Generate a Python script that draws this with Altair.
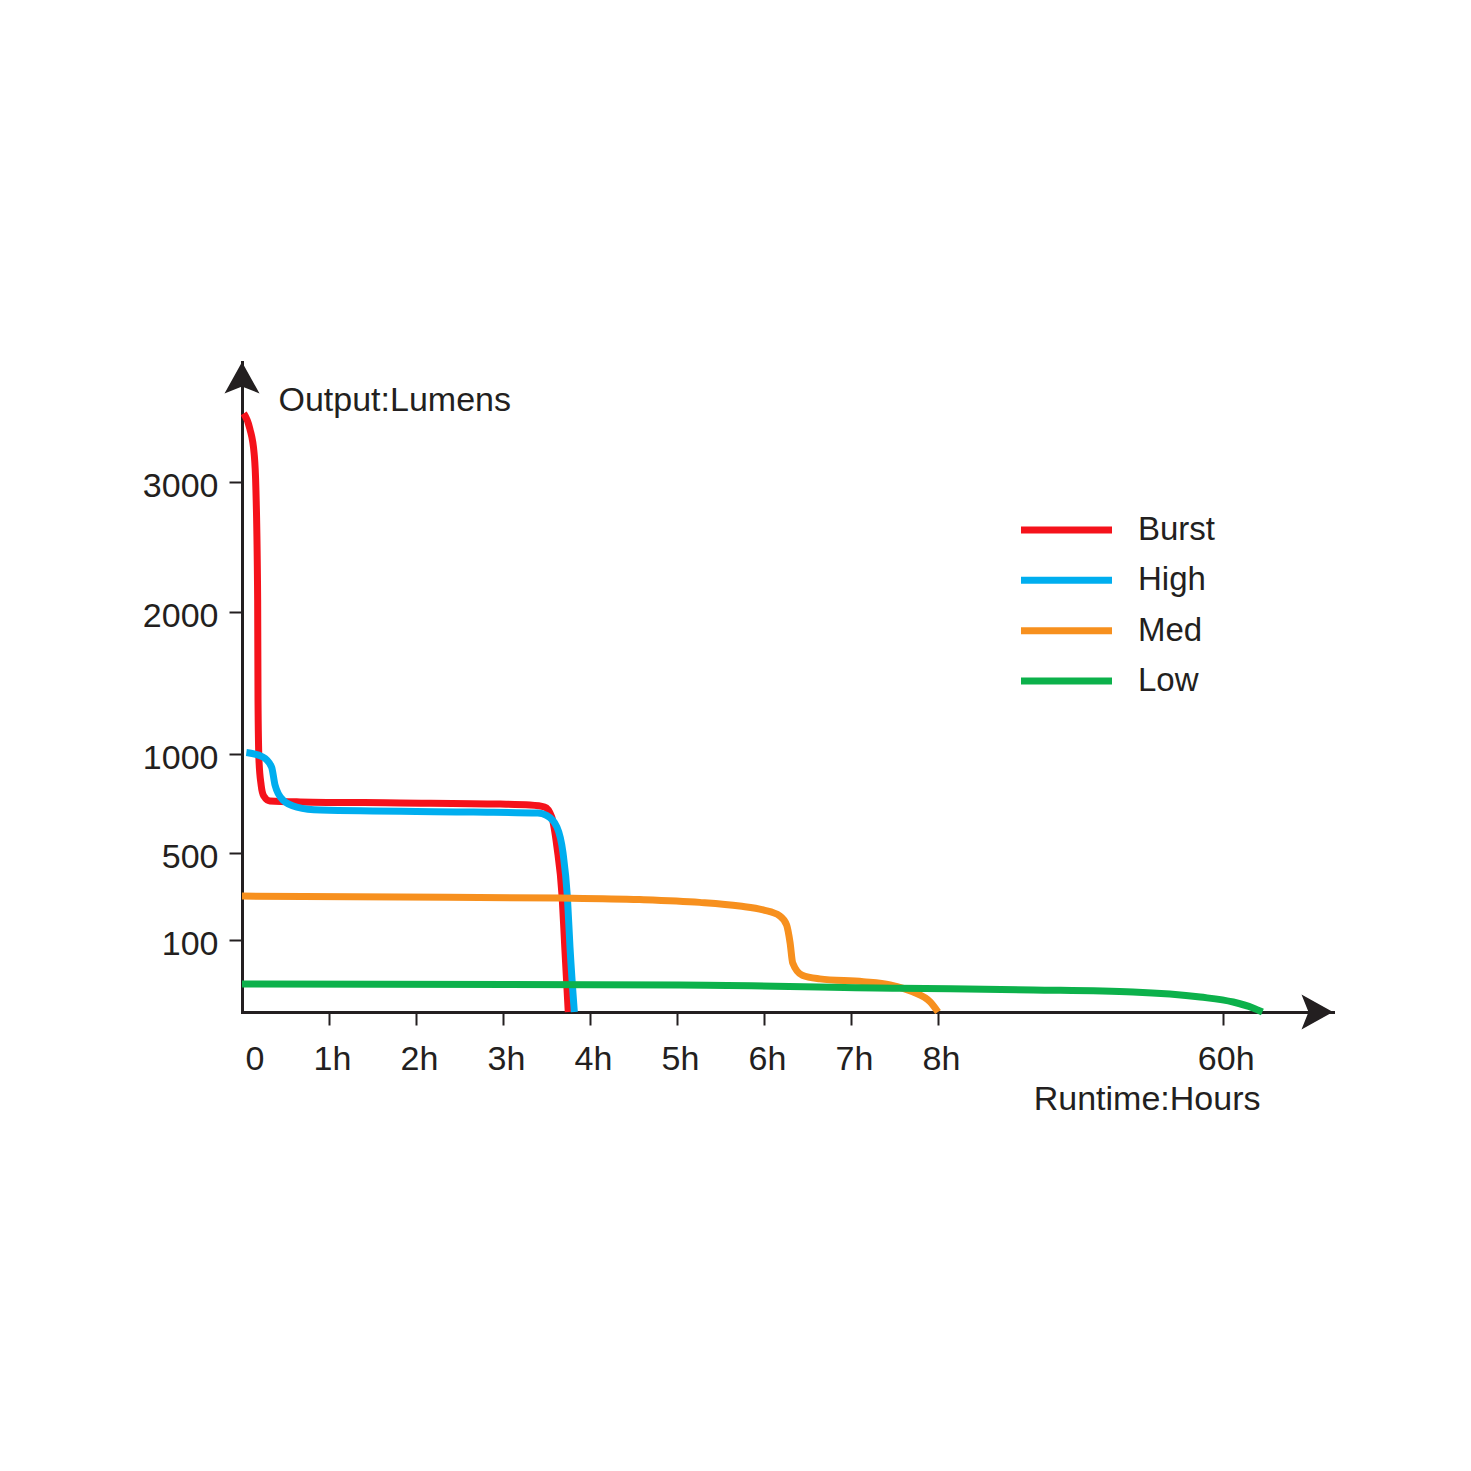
import altair as alt
import pandas as pd

series_names = ["Burst", "High", "Med", "Low"]
series_colors = ["#f5121b", "#00aeef", "#f7901e", "#0cb14b"]

burst_hours = [0.02, 0.09, 0.14, 0.16, 0.18, 0.184, 0.195, 0.22, 0.25, 0.32, 0.67, 1.82,
               2.97, 3.31, 3.48, 3.56, 3.62, 3.68, 3.71, 3.75]
burst_lumens = [3515, 3400, 3210, 2940, 2092, 1380, 970, 843, 788, 763, 758, 753,
                747, 742, 732, 682, 530, 298, 90, 0]

high_hours = [0.05, 0.24, 0.34, 0.38, 0.47, 0.63, 0.90, 2.66, 3.40, 3.50, 3.62, 3.69,
              3.74, 3.77, 3.82]
high_lumens = [1010, 985, 934, 843, 768, 732, 717, 707, 702, 690, 631, 500, 298, 90, 0]

med_hours = [0, 1.82, 3.66, 4.57, 5.26, 5.72, 5.99, 6.18, 6.26, 6.30, 6.33, 6.44, 6.64,
             7.14, 7.45, 7.71, 7.91, 8.0]
med_lumens = [302, 298, 293, 286, 273, 256, 238, 211, 169, 96, 68, 51, 46, 42, 37.5,
              28, 14, 0]

low_hours = [0, 5.03, 7.56, 25.4, 43.6, 55.9, 61.9, 65.5, 67.2]
low_lumens = [39, 37.5, 33, 30.6, 27.8, 20.8, 13.9, 5.6, 0]

x_tick_values = [0, 1, 2, 3, 4, 5, 6, 7, 8, 60]
y_tick_values = [100, 500, 1000, 2000, 3000]

FONT = "Liberation Sans"
INK = "#231f20"

rows = []
for name, hs, ls in [("Burst", burst_hours, burst_lumens), ("High", high_hours, high_lumens),
                     ("Med", med_hours, med_lumens), ("Low", low_hours, low_lumens)]:
    for h, l in zip(hs, ls):
        rows.append({"series": name, "hours": h, "lumens": l})
df = pd.DataFrame(rows)

color_scale = alt.Scale(domain=series_names, range=series_colors)

x_scale = alt.Scale(domain=[0, 8, 60, 80], range=[0, 696, 980.7, 1091], nice=False, zero=False)
y_scale = alt.Scale(domain=[0, 100, 500, 1000, 2000, 3000, 3900],
                    range=[650, 578, 491, 392, 250, 120, 0], nice=False, zero=False)

x_axis = alt.Axis(
    values=x_tick_values,
    labelExpr="datum.value == 0 ? '0' : datum.value + 'h'",
    labelAlign={"condition": {"test": "datum.value == 0", "value": "left"}, "value": "center"},
    tickOpacity={"condition": {"test": "datum.value == 0", "value": 0}, "value": 1},
    labelOffset=3, labelFlush=False, labelOverlap=False,
    labelFont=FONT, labelFontSize=34, labelColor=INK, labelPadding=17,
    tickSize=13, tickWidth=2, tickColor=INK,
    domainColor=INK, domainWidth=3, domainCap="square", grid=False,
    title="Runtime:Hours", titleFont=FONT, titleFontSize=34, titleFontWeight="normal",
    titleColor=INK, titleX=1018, titleY=97, titleAlign="right", titleBaseline="alphabetic",
    titleAngle=0,
)
y_axis = alt.Axis(
    values=y_tick_values, format="d", labelFlush=False, labelOverlap=False,
    labelFont=FONT, labelFontSize=34, labelColor=INK, labelPadding=11, labelOffset=4,
    tickSize=13, tickWidth=2, tickColor=INK,
    domainColor=INK, domainWidth=3, domainCap="square", grid=False,
    title="Output:Lumens", titleFont=FONT, titleFontSize=34, titleFontWeight="normal",
    titleColor=INK, titleX=36, titleY=48, titleAlign="left", titleBaseline="alphabetic",
    titleAngle=0,
)

line_layers = []
for name in series_names:
    line_layers.append(
        alt.Chart(df[df.series == name]).mark_line(strokeWidth=7, interpolate="monotone").encode(
            x=alt.X("hours:Q", scale=x_scale, axis=x_axis),
            y=alt.Y("lumens:Q", scale=y_scale, axis=y_axis),
            color=alt.Color("series:N", scale=color_scale, legend=None),
        )
    )

y_arrow = "M0,0L-1,1.8L0,1.4L1,1.8Z"
x_arrow = "M0,0L-1.8,-1L-1.4,0L-1.8,1Z"
arrow_df = pd.DataFrame({"hours": [0, 80], "lumens": [3900, 0], "shape": [y_arrow, x_arrow]})
arrows = alt.Chart(arrow_df).mark_point(filled=True, size=1225, opacity=1, color=INK, strokeWidth=0).encode(
    x=alt.X("hours:Q", scale=x_scale, axis=x_axis),
    y=alt.Y("lumens:Q", scale=y_scale, axis=y_axis),
    shape=alt.Shape("shape:N", scale=None),
)

legend_df = pd.DataFrame({"series": series_names})
legend_y = alt.Y("series:N", scale=alt.Scale(type="point", domain=series_names, range=[168, 319], padding=0), axis=None)
legend_rules = alt.Chart(legend_df).mark_rule(strokeWidth=7).encode(
    x=alt.value(779), x2=alt.value(870), y=legend_y,
    color=alt.Color("series:N", scale=color_scale, legend=None),
)
legend_text = alt.Chart(legend_df).mark_text(align="left", baseline="middle", fontSize=33, font=FONT, color=INK).encode(
    x=alt.value(896), y=legend_y, text="series:N",
)

main = alt.layer(*line_layers, arrows)
chart = alt.layer(main, legend_rules, legend_text).resolve_scale(y="independent").properties(
    width=1091, height=650,
    padding={"left": 234, "top": 354, "right": 120, "bottom": 130},
    autosize=alt.AutoSizeParams(type="none"),
    background="#ffffff",
).configure_view(stroke=None)

chart.save("out.html", embed_options={"renderer": "svg", "actions": False})
